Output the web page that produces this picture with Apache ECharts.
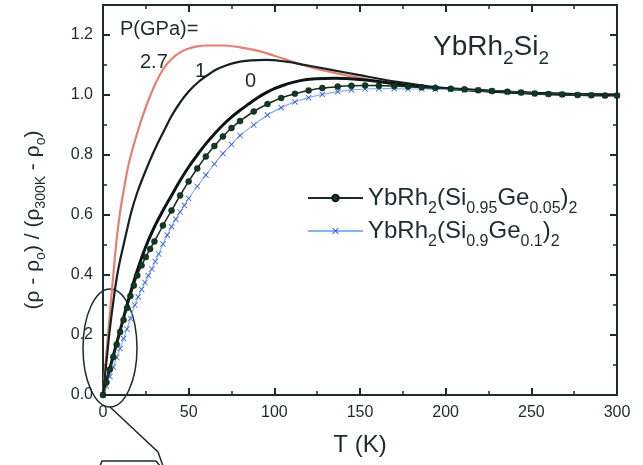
<!DOCTYPE html>
<html>
<head>
<meta charset="utf-8">
<script src="https://cdn.jsdelivr.net/npm/echarts@6/dist/echarts.min.js"></script>
<style>
html, body { margin: 0; padding: 0; background: #fff; }
#main { width: 643px; height: 465px; }
</style>
</head>
<body>
<div id="main"></div>
<script>
// P = 2.7 GPa (red), 1 GPa, 0 GPa (solid lines)
var tRed = [0, 2, 4, 6, 8, 10, 12, 15, 18, 22, 26, 30, 35, 40, 45, 50, 55, 60, 70, 80, 90, 100, 110, 120, 130, 140, 150, 160, 170, 180, 190, 200, 225, 250, 275, 300];
var vRed = [0, 0.14, 0.27, 0.4, 0.52, 0.61, 0.68, 0.77, 0.835, 0.91, 0.975, 1.03, 1.085, 1.12, 1.142, 1.155, 1.162, 1.165, 1.165, 1.159, 1.148, 1.131, 1.112, 1.094, 1.08, 1.068, 1.057, 1.046, 1.036, 1.03, 1.025, 1.021, 1.013, 1.007, 1.003, 1.0];

var tOne = [0, 2, 4, 6, 8, 10, 12, 14, 16.5, 20, 24, 28, 32, 36, 40, 45, 50, 56, 62, 68, 80, 95, 107, 118, 134, 149, 165, 180, 200, 225, 250, 275, 300];
var vOne = [0, 0.11, 0.22, 0.31, 0.39, 0.45, 0.5, 0.55, 0.61, 0.675, 0.735, 0.79, 0.84, 0.885, 0.93, 0.975, 1.012, 1.045, 1.07, 1.09, 1.111, 1.117, 1.111, 1.1, 1.083, 1.067, 1.05, 1.037, 1.022, 1.013, 1.007, 1.003, 1.0];

var tZero = [0, 5, 10, 15, 20, 25, 30, 35, 40, 45, 50, 55, 60, 65, 70, 75, 80, 85, 90, 95, 100, 107, 115, 124, 135, 150, 165, 175, 186, 200, 225, 250, 275, 300];
var vZero = [0, 0.11, 0.215, 0.32, 0.415, 0.495, 0.56, 0.615, 0.665, 0.715, 0.76, 0.8, 0.837, 0.87, 0.9, 0.926, 0.949, 0.97, 0.99, 1.007, 1.021, 1.036, 1.048, 1.054, 1.056, 1.052, 1.042, 1.034, 1.027, 1.022, 1.013, 1.006, 1.002, 1.0];

// YbRh2(Si0.95Ge0.05)2 (dots)
var tGe05 = [0, 2, 4, 6, 8, 10, 12, 14, 16, 18, 20, 22.5, 25, 27.5, 30, 35, 40, 45, 50, 55, 60, 65, 70, 75, 80, 88, 96, 104, 112, 120, 128, 137, 145, 153, 161, 170, 178, 186, 194, 203, 211, 219, 227, 236, 244, 252, 260, 268, 277, 285, 293, 300];
var vGe05 = [0, 0.042, 0.085, 0.127, 0.168, 0.21, 0.25, 0.29, 0.33, 0.365, 0.398, 0.432, 0.46, 0.487, 0.512, 0.565, 0.615, 0.665, 0.712, 0.755, 0.795, 0.83, 0.862, 0.89, 0.913, 0.945, 0.97, 0.99, 1.004, 1.015, 1.023, 1.028, 1.031, 1.032, 1.031, 1.03, 1.028, 1.026, 1.024, 1.021, 1.019, 1.016, 1.013, 1.011, 1.008, 1.005, 1.003, 1.002, 1.0, 0.999, 0.998, 0.998];

// YbRh2(Si0.9Ge0.1)2 (crosses)
var tGe10 = [0, 2, 4, 6, 8, 10, 12, 14, 16, 18.6, 20.5, 22.5, 24.5, 26.5, 28.5, 30.5, 32.5, 35, 37.5, 40, 42.5, 45, 47.5, 50, 55, 60, 65, 70, 75, 80, 88, 96, 104, 112, 120, 128, 137, 145, 153, 161, 170, 178, 186, 194, 203, 211, 219, 227, 236, 244, 252, 260, 268, 277, 285, 293, 300];
var vGe10 = [0, 0.03, 0.062, 0.093, 0.125, 0.155, 0.188, 0.22, 0.255, 0.3, 0.327, 0.352, 0.375, 0.398, 0.42, 0.445, 0.47, 0.503, 0.533, 0.561, 0.586, 0.61, 0.632, 0.655, 0.695, 0.733, 0.77, 0.805, 0.835, 0.865, 0.9, 0.933, 0.958, 0.977, 0.991, 1.002, 1.011, 1.017, 1.02, 1.021, 1.021, 1.02, 1.02, 1.019, 1.018, 1.017, 1.015, 1.013, 1.011, 1.008, 1.005, 1.003, 1.002, 1.0, 0.999, 0.998, 0.998];

var xTicks = [0, 50, 100, 150, 200, 250, 300];
var yTicks = [0, 0.2, 0.4, 0.6, 0.8, 1.0, 1.2];

var legendNames = ["YbRh2(Si0.95Ge0.05)2", "YbRh2(Si0.9Ge0.1)2"];
var legendRich = [
  "{m|YbRh}{s|2}{m|(Si}{s|0.95}{m|Ge}{s|0.05}{m|)}{s|2}",
  "{m|YbRh}{s|2}{m|(Si}{s|0.9}{m|Ge}{s|0.1}{m|)}{s|2}"
];

function pairs(t, v) {
  var out = [];
  for (var i = 0; i < t.length; i++) out.push([t[i], v[i]]);
  return out;
}

var ink = "#1d2b2b";
var font = "Liberation Sans";
var crossPath = "path://M0,1L1,0L5,4L9,0L10,1L6,5L10,9L9,10L5,6L1,10L0,9L4,5Z";

function axisCommon(pos, showLabel) {
  return {
    type: "value",
    position: pos,
    axisLine: { show: true, onZero: false, lineStyle: { color: ink, width: 2 } },
    axisTick: { show: true, inside: true, length: 7, lineStyle: { color: ink, width: 2 } },
    minorTick: { show: true, splitNumber: 2, length: 4, lineStyle: { color: ink, width: 1.5 } },
    splitLine: { show: false },
    axisLabel: { show: showLabel, color: ink, fontSize: 16, fontFamily: font, margin: 10 }
  };
}

var xBottom = axisCommon("bottom", true);
xBottom.min = xTicks[0]; xBottom.max = xTicks[xTicks.length - 1]; xBottom.interval = 50;
xBottom.name = "T (K)";
xBottom.nameLocation = "middle";
xBottom.nameGap = 38;
xBottom.nameTextStyle = { color: ink, fontSize: 24, fontFamily: font };
var xTop = axisCommon("top", false);
xTop.min = 0; xTop.max = 300; xTop.interval = 50;

var yLeft = axisCommon("left", true);
yLeft.min = 0; yLeft.max = 1.3; yLeft.interval = 0.2;
yLeft.axisLabel.showMaxLabel = false;
yLeft.axisLabel.formatter = function (v) { return yTicks.indexOf(Math.round(v * 10) / 10) >= 0 ? v.toFixed(1) : ""; };
var yRight = axisCommon("right", false);
yRight.min = 0; yRight.max = 1.3; yRight.interval = 0.2;

var richLegend = {
  m: { fontSize: 24, fontFamily: font, color: ink, lineHeight: 24 },
  s: { fontSize: 16, fontFamily: font, color: ink, lineHeight: 24, padding: [22, 0, 0, 0] }
};

function legendAt(i, top) {
  return {
    show: true,
    data: [legendNames[i]],
    left: 307,
    top: top,
    padding: 0,
    itemWidth: 55,
    itemHeight: 8,
    itemGap: 0,
    formatter: function () { return legendRich[i]; },
    textStyle: { rich: richLegend }
  };
}

var myChart = echarts.init(document.getElementById("main"), null, { renderer: "canvas" });

myChart.setOption({
  animation: false,
  backgroundColor: "#fff",
  grid: { left: 103, right: 26, top: 5, bottom: 70 },
  xAxis: [xBottom, xTop],
  yAxis: [yLeft, yRight],
  legend: [legendAt(0, 179), legendAt(1, 212)],
  graphic: [
    {
      type: "text", x: 33, y: 220, rotation: Math.PI / 2,
      style: {
        text: "{m|(ρ - ρ}{s|o}{m|) / (ρ}{s|300K}{m| - ρ}{s|o}{m|)}",
        align: "center", verticalAlign: "middle",
        rich: {
          m: { fontSize: 21, fontFamily: font, fill: ink, lineHeight: 21 },
          s: { fontSize: 14, fontFamily: font, fill: ink, lineHeight: 21, padding: [16, 0, 0, 0] }
        }
      }
    },
    { type: "text", x: 120, y: 29, style: { text: "P(GPa)=", fontSize: 20, fontFamily: font, fill: ink, verticalAlign: "middle" } },
    { type: "text", x: 140, y: 62, style: { text: "2.7", fontSize: 20, fontFamily: font, fill: ink, verticalAlign: "middle" } },
    { type: "text", x: 195, y: 71, style: { text: "1", fontSize: 20, fontFamily: font, fill: ink, verticalAlign: "middle" } },
    { type: "text", x: 245, y: 81, style: { text: "0", fontSize: 20, fontFamily: font, fill: ink, verticalAlign: "middle" } },
    {
      type: "text", x: 433, y: 47,
      style: {
        text: "{m|YbRh}{s|2}{m|Si}{s|2}",
        verticalAlign: "middle",
        rich: {
          m: { fontSize: 28, fontFamily: font, fill: ink, lineHeight: 28 },
          s: { fontSize: 19, fontFamily: font, fill: ink, lineHeight: 28, padding: [24, 0, 0, 0] }
        }
      }
    },
    // circled region near the origin
    { type: "ellipse", shape: { cx: 110, cy: 348, rx: 27, ry: 59 }, style: { fill: "none", stroke: ink, lineWidth: 1.5 } },
    { type: "polyline", shape: { points: [[110, 407], [158, 452], [163, 466]] }, style: { fill: "none", stroke: ink, lineWidth: 1.5 } },
    { type: "polyline", shape: { points: [[100, 466], [102, 461], [156, 461], [160, 466]] }, style: { fill: "none", stroke: ink, lineWidth: 1.5 } }
  ],
  series: [
    {
      name: "2.7 GPa", type: "line", smooth: 0.4, showSymbol: false,
      lineStyle: { color: "#e4806c", width: 2.2 },
      data: pairs(tRed, vRed), z: 3
    },
    {
      name: "1 GPa", type: "line", smooth: 0.4, showSymbol: false,
      lineStyle: { color: "#152020", width: 2.2 },
      data: pairs(tOne, vOne), z: 4
    },
    {
      name: "0 GPa", type: "line", smooth: 0.4, showSymbol: false,
      lineStyle: { color: "#0d1414", width: 3 },
      data: pairs(tZero, vZero), z: 4
    },
    {
      name: legendNames[1], type: "line", smooth: 0.3,
      symbol: crossPath, symbolSize: 6,
      itemStyle: { color: "#3b5fd6" },
      lineStyle: { color: "#86b4ec", width: 1.2 },
      data: pairs(tGe10, vGe10), z: 5
    },
    {
      name: legendNames[0], type: "line", smooth: 0.3,
      symbol: "circle", symbolSize: 6,
      itemStyle: { color: "#103a22", borderColor: "#0a1a10", borderWidth: 0.5 },
      lineStyle: { color: "#1b2b22", width: 1.5 },
      data: pairs(tGe05, vGe05), z: 6
    }
  ]
});
</script>
</body>
</html>
